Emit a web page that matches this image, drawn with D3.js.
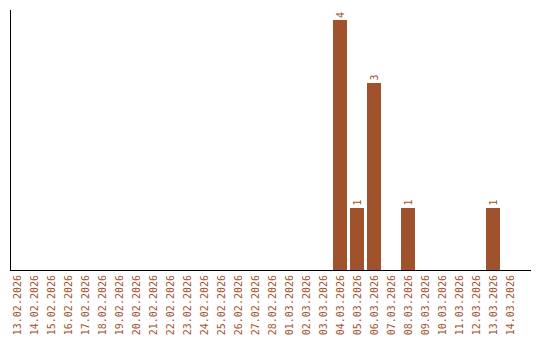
<!DOCTYPE html>
<html>
<head>
<meta charset="utf-8">
<script src="https://cdn.jsdelivr.net/npm/d3@7"></script>
<style>
  body { margin: 0; background: #fff; }
  text { font-family: "DejaVu Sans Mono", monospace; font-size: 10px; fill: #a0522d; }
</style>
</head>
<body>
<div id="chart"></div>
<script>
// dates shown on the x axis
var dates = ["13.02.2026", "14.02.2026", "15.02.2026", "16.02.2026", "17.02.2026",
    "18.02.2026", "19.02.2026", "20.02.2026", "21.02.2026", "22.02.2026",
    "23.02.2026", "24.02.2026", "25.02.2026", "26.02.2026", "27.02.2026",
    "28.02.2026", "01.03.2026", "02.03.2026", "03.03.2026", "04.03.2026",
    "05.03.2026", "06.03.2026", "07.03.2026", "08.03.2026", "09.03.2026",
    "10.03.2026", "11.03.2026", "12.03.2026", "13.03.2026", "14.03.2026"];

// count per day
var counts = [0, 0, 0, 0, 0, 0, 0, 0, 0, 0,
    0, 0, 0, 0, 0, 0, 0, 0, 0, 4,
    1, 3, 0, 1, 0, 0, 0, 0, 1, 0];

var width = 540;
var height = 340;
var color = "#a0522d";

var svg = d3.select("#chart")
    .append("svg")
    .attr("width", width)
    .attr("height", height);

// band scale: 17px per day, first centre at x=17
var x = d3.scaleBand()
    .domain(dates)
    .range([8.5, 8.5 + 17 * dates.length])
    .paddingInner(3 / 17)
    .paddingOuter(1.5 / 17);

var y = d3.scaleLinear()
    .domain([0, d3.max(counts)])
    .range([270, 20]);

var data = dates.map(function (d, i) { return { date: d, value: counts[i] }; });

// bars
svg.selectAll("rect.bar")
    .data(data.filter(function (d) { return d.value > 0; }))
    .enter().append("rect")
    .attr("class", "bar")
    .attr("x", function (d) { return x(d.date); })
    .attr("width", x.bandwidth())
    .attr("y", function (d) { return y(d.value); })
    .attr("height", function (d) { return y(0) - y(d.value); })
    .attr("fill", color)
    .attr("shape-rendering", "crispEdges");

// value labels above bars, rotated
svg.selectAll("text.value")
    .data(data.filter(function (d) { return d.value > 0; }))
    .enter().append("text")
    .attr("class", "value")
    .attr("transform", function (d) {
        return "translate(" + (x(d.date) + x.bandwidth() / 2) + "," + (y(d.value) - 2) + ") rotate(-90)";
    })
    .attr("dy", "0.35em")
    .attr("text-anchor", "start")
    .text(function (d) { return d.value; });

// axes lines
svg.append("line")
    .attr("x1", 10.5).attr("x2", 10.5)
    .attr("y1", 10).attr("y2", 270.5)
    .attr("stroke", "#000");

svg.append("line")
    .attr("x1", 10).attr("x2", 531)
    .attr("y1", 270.5).attr("y2", 270.5)
    .attr("stroke", "#000");

// date labels, rotated
var xAxis = d3.axisBottom(x).tickSize(0).tickPadding(0);
var gx = svg.append("g")
    .attr("transform", "translate(0,270)")
    .call(xAxis);
gx.select(".domain").remove();
gx.selectAll("text")
    .attr("transform", "translate(0,5) rotate(-90)")
    .attr("x", 0)
    .attr("y", 0)
    .attr("dy", "0.35em")
    .attr("text-anchor", "end")
    .style("font-family", "'DejaVu Sans Mono', monospace")
    .style("font-size", "10px")
    .attr("fill", color);
</script>
</body>
</html>
